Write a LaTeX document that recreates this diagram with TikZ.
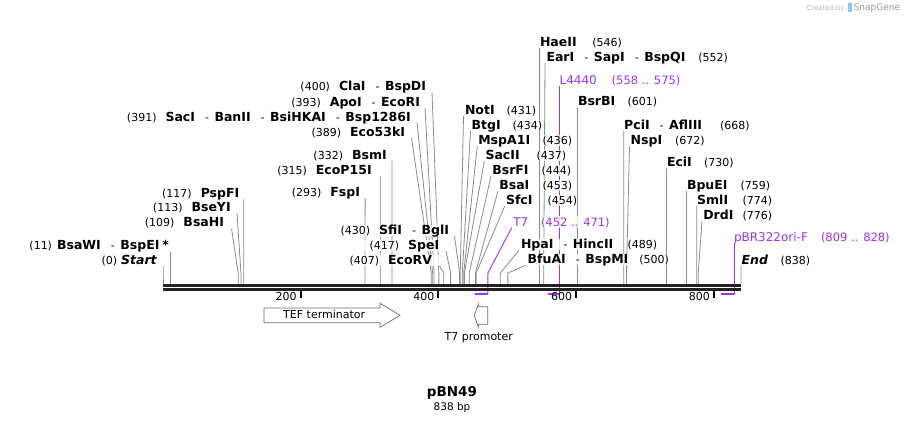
\documentclass[tikz,border=0pt]{standalone}
\usepackage{fontspec}
\setmainfont{DejaVu Sans}
\usetikzlibrary{backgrounds}
\definecolor{prim}{RGB}{160,50,240}
\definecolor{conngray}{RGB}{140,140,140}
\definecolor{bbcol}{RGB}{34,34,34}
\definecolor{featgray}{RGB}{110,110,110}
\definecolor{logoblue}{RGB}{140,200,240}
\newcommand\bn[1]{{\fontsize{12.5}{14}\selectfont\bfseries #1}}
\newcommand\sepr{\hspace{10pt}-\hspace{5.5pt}}
\newcommand\gp{\hspace{9pt}}
\tikzset{
  lab/.style={fill=white, fill opacity=0.8, text opacity=1, inner ysep=0.3pt, outer sep=0pt,
    text height=9.5pt, text depth=1.3pt, font=\fontsize{11}{13}\selectfont},
  plab/.style={lab, text=prim, font=\fontsize{12}{14}\selectfont},
  pnum/.style={lab, text=prim, inner xsep=0pt, font=\fontsize{11.5}{13}\selectfont},
  cn/.style={draw=conngray, line width=0.8pt},
  pcn/.style={draw=prim, line width=0.9pt},
  pmark/.style={draw=prim, line width=2pt},
  feat/.style={draw=featgray, fill=white, line width=0.7pt},
  plain/.style={inner sep=0pt, outer sep=0pt, font=\fontsize{11}{13}\selectfont}
}
% left label: id, text, text end, centre y, connector start x, site bp
\newcommand\LeftLab[6]{%
  \node[lab, anchor=south east, inner xsep={#5-#3}] (#1) at (#5,#4+6) {#2};
  \coordinate (#1k) at ({163+0.6897*#6},273);
  \coordinate (#1c) at ({163+0.6897*#6},284);
  \begin{pgfonlayer}{background}\draw[cn] (#1.south east) -- (#1k) -- (#1c);\end{pgfonlayer}
}
% right label: id, name, text start, centre y, connector start x, site bp, number, number x
\newcommand\RightLab[8]{%
  \node[lab, anchor=south west, inner xsep={#3-#5}] (#1) at (#5,#4+6) {#2};
  \node[lab, anchor=south west, inner xsep=0pt] (#1n) at (#8,#4+6) {#7};
  \coordinate (#1k) at ({163+0.6897*#6},273);
  \coordinate (#1c) at ({163+0.6897*#6},284);
  \begin{pgfonlayer}{background}\draw[cn] (#1.south west) -- (#1k) -- (#1c);\end{pgfonlayer}
}
\begin{document}
\begin{tikzpicture}[x=1pt,y=-1pt]
\useasboundingbox (0,0) rectangle (905,423);
\begin{pgfonlayer}{background}\fill[white] (0,0) rectangle (905,423);\end{pgfonlayer}

% left labels
\LeftLab{cla}{(400)\gp\bn{ClaI}\sepr\bn{BspDI}}{426}{86.5}{432}{400}
\LeftLab{apo}{(393)\gp\bn{ApoI}\sepr\bn{EcoRI}}{420}{102}{425}{393}
\LeftLab{sac}{(391)\gp\bn{SacI}\sepr\bn{BanII}\sepr\bn{BsiHKAI}\sepr\bn{Bsp1286I}}{410.7}{116.7}{417}{391}
\LeftLab{ecok}{(389)\gp\bn{Eco53kI}}{405}{131.7}{411.5}{389}
\LeftLab{bsm}{(332)\gp\bn{BsmI}}{386.7}{155}{392}{332}
\LeftLab{ecop}{(315)\gp\bn{EcoP15I}}{371.7}{170}{380.3}{315}
\LeftLab{fsp}{(293)\gp\bn{FspI}}{360}{192}{365.1}{293}
\LeftLab{sfi}{(430)\gp\bn{SfiI}\sepr\bn{BglI}}{449}{230}{454.5}{430}
\LeftLab{spe}{(417)\gp\bn{SpeI}}{439.3}{245}{446}{417}
\LeftLab{ecorv}{(407)\gp\bn{EcoRV}}{432}{260}{439.5}{407}
\LeftLab{psp}{(117)\gp\bn{PspFI}}{239.3}{192.7}{243.7}{117}
\LeftLab{bse}{(113)\gp\bn{BseYI}}{230.7}{207}{237}{113}
\LeftLab{bsah}{(109)\gp\bn{BsaHI}}{224}{222.5}{231.5}{109}
\LeftLab{bsaw}{(11)\hspace{5pt}\bn{BsaWI}\sepr\bn{BspEI}\hspace{3pt}\bn{*}}{169}{245.5}{170.6}{11}
\LeftLab{start}{(0)\hspace{4pt}\bn{\itshape Start}}{156.7}{260}{163}{0}

% right labels
\RightLab{hae}{\bn{HaeII}}{540}{42}{539.6}{546}{(546)}{592.3}
\RightLab{ear}{\bn{EarI}\sepr\bn{SapI}\sepr\bn{BspQI}}{546.5}{57}{545}{552}{(552)}{698.3}
\RightLab{bsrb}{\bn{BsrBI}}{578}{101.5}{577.5}{601}{(601)}{627.7}
\RightLab{not}{\bn{NotI}}{465}{110}{463.5}{431}{(431)}{506.7}
\RightLab{btg}{\bn{BtgI}}{471.7}{125}{470.5}{434}{(434)}{512.7}
\RightLab{msp}{\bn{MspA1I}}{478.3}{140}{477.3}{436}{(436)}{542.7}
\RightLab{sacii}{\bn{SacII}}{485.5}{155}{484.3}{437}{(437)}{536.7}
\RightLab{bsrf}{\bn{BsrFI}}{492.3}{170}{491}{444}{(444)}{541.7}
\RightLab{bsai}{\bn{BsaI}}{499.3}{185}{498}{453}{(453)}{542.7}
\RightLab{sfc}{\bn{SfcI}}{506}{200}{504.8}{454}{(454)}{547.7}
\RightLab{hpa}{\bn{HpaI}\sepr\bn{HincII}}{521}{244.3}{519}{489}{(489)}{627.7}
\RightLab{bfu}{\bn{BfuAI}\sepr\bn{BspMI}}{527.7}{259.3}{525.5}{500}{(500)}{639.3}
\RightLab{pci}{\bn{PciI}\sepr\bn{AflIII}}{624.2}{125}{623.7}{668}{(668)}{720}
\RightLab{nsp}{\bn{NspI}}{630.7}{140.5}{629.5}{672}{(672)}{675}
\RightLab{eci}{\bn{EciI}}{667}{162.5}{666.5}{730}{(730)}{704}
\RightLab{bpu}{\bn{BpuEI}}{687}{185}{686.5}{759}{(759)}{740.7}
\RightLab{sml}{\bn{SmlI}}{697.2}{200}{696.8}{774}{(774)}{742.7}
\RightLab{drd}{\bn{DrdI}}{703.3}{215}{702}{776}{(776)}{742.7}
\RightLab{end}{\bn{\itshape End}}{741.7}{260}{741}{838}{(838)}{780.7}

% primers
\node[plab, anchor=south west, inner xsep=0pt] (lk) at (559.6,86) {L4440};
\node[pnum, anchor=south west] (lkn) at (611.7,86) {(558 .. 575)};
\coordinate (lkc) at (559.6,294);
\coordinate (lks) at (547.9,294);
\node[plab, anchor=south west, inner xsep=1.6pt] (tseven) at (511.7,227.7) {T7};
\node[pnum, anchor=south west] (tsevenn) at (541,227.7) {(452 .. 471)};
\coordinate (tsevenk) at (487.9,273);
\coordinate (tsevenc) at (487.9,294);
\coordinate (tsevens) at (474.7,294);
\node[plab, anchor=south west, inner xsep=0pt] (pbr) at (734,242.7) {pBR322ori-F};
\node[pnum, anchor=south west] (pbrn) at (821,242.7) {(809 .. 828)};
\coordinate (pbrc) at (734,294);
\coordinate (pbrs) at (721,294);
\begin{pgfonlayer}{background}
\draw[pcn] (lk.south west) -- (lkc);
\draw[pcn] (tseven.south west) -- (tsevenk) -- (tsevenc);
\draw[pcn] (pbr.south west) -- (pbrc);
\end{pgfonlayer}

% backbone
\draw[bbcol, line width=2.7pt] (163,285.3) -- (741,285.3);
\draw[bbcol, line width=3pt] (163,289.5) -- (741,289.5);

% primer marks
\draw[pmark] (lks) -- (lkc);
\draw[pmark] (tsevens) -- (tsevenc);
\draw[pmark] (pbrs) -- (pbrc);

% ticks
\foreach \v in {200,400,600,800}{
  \draw[black, line width=2pt] ({163+0.6885*\v},291) -- ({163+0.6885*\v},298);
  \node[plain, anchor=base east] (tick\v) at ({163+0.6885*\v-4},300.7) {\v};
}

% features
\draw[feat] (264,308) -- (380,308) -- (380,303.3) -- (400,315.3) -- (380,327.3) -- (380,322.7) -- (264,322.7) -- cycle;
\node[plain, anchor=base] (tef) at (324.2,318.6) {TEF terminator};
\draw[feat] (487.7,306.7) -- (478.3,306.7) -- (478.3,304) -- (474.3,315.5) -- (478.3,327) -- (478.3,324.3) -- (487.7,324.3) -- cycle;
\node[plain, anchor=base] (tprom) at (478.7,340.6) {T7 promoter};

% title
\node[inner sep=0pt, anchor=base, font=\fontsize{13.5}{15}\selectfont\bfseries] (title) at (452,396) {pBN49};
\node[inner sep=0pt, anchor=base, font=\fontsize{10.5}{12}\selectfont] (bp) at (452,410) {838 bp};

% created by
\node[inner sep=0pt, anchor=base west, text=black!28, font=\fontsize{6.8}{8}\selectfont] (cre) at (806.7,10) {Created by};
\fill[logoblue, rounded corners=1pt] (847.8,2.5) rectangle (852,12);
\node[inner sep=0pt, anchor=base west, text=black!40, font=\fontsize{9}{10}\selectfont] (snap) at (853.5,10.5) {SnapGene};
\end{tikzpicture}
\end{document}
